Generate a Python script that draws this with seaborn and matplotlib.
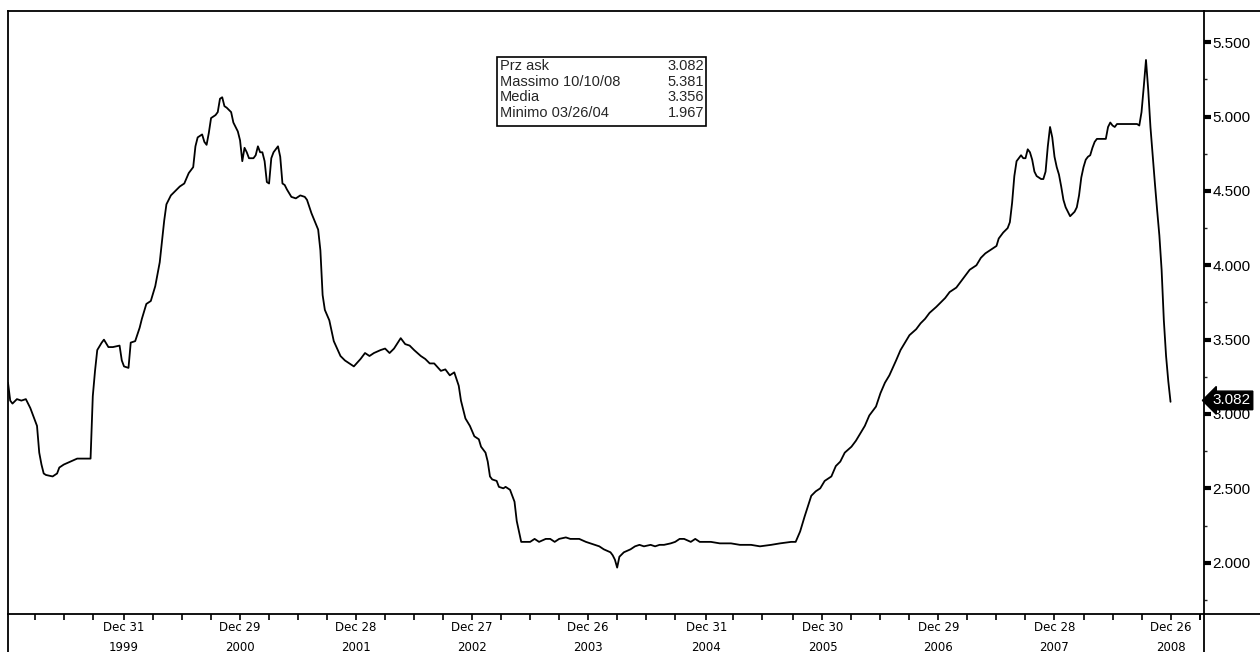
import numpy as np
import pandas as pd
import matplotlib
matplotlib.use('Agg')
import matplotlib.pyplot as plt
from matplotlib.lines import Line2D
from matplotlib.patches import Rectangle
import seaborn as sns

# weekly ask price
dates = [
    '1999-01-01', '1999-01-08', '1999-01-15', '1999-01-29', '1999-02-12', '1999-02-26', '1999-03-12',
    '1999-03-19', '1999-04-02', '1999-04-09', '1999-04-16', '1999-04-23', '1999-04-30', '1999-05-21',
    '1999-06-04', '1999-06-11', '1999-06-25', '1999-07-16', '1999-08-06', '1999-08-20', '1999-09-03',
    '1999-09-17', '1999-09-24', '1999-10-01', '1999-10-08', '1999-10-22', '1999-10-29', '1999-11-12',
    '1999-11-26', '1999-12-17', '1999-12-24', '1999-12-31', '2000-01-14', '2000-01-21', '2000-02-04',
    '2000-02-18', '2000-02-25', '2000-03-10', '2000-03-24', '2000-04-07', '2000-04-21', '2000-05-05',
    '2000-05-12', '2000-05-26', '2000-06-09', '2000-06-23', '2000-07-07', '2000-07-21', '2000-08-04',
    '2000-08-11', '2000-08-18', '2000-09-01', '2000-09-08', '2000-09-15', '2000-09-22', '2000-09-29',
    '2000-10-13', '2000-10-20', '2000-10-27', '2000-11-03', '2000-11-10', '2000-11-17', '2000-12-01',
    '2000-12-08', '2000-12-15', '2000-12-22', '2000-12-29', '2001-01-05', '2001-01-12', '2001-01-19',
    '2001-01-26', '2001-02-09', '2001-02-16', '2001-02-23', '2001-03-02', '2001-03-09', '2001-03-16',
    '2001-03-23', '2001-03-30', '2001-04-06', '2001-04-13', '2001-04-27', '2001-05-04', '2001-05-11',
    '2001-05-18', '2001-05-25', '2001-06-08', '2001-06-22', '2001-07-06', '2001-07-20', '2001-07-27',
    '2001-08-10', '2001-08-31', '2001-09-07', '2001-09-14', '2001-09-21', '2001-10-05', '2001-10-19',
    '2001-11-09', '2001-11-23', '2001-12-07', '2001-12-21', '2002-01-11', '2002-01-25', '2002-02-08',
    '2002-02-22', '2002-03-15', '2002-03-29', '2002-04-12', '2002-04-26', '2002-05-17', '2002-05-31',
    '2002-06-14', '2002-06-28', '2002-07-19', '2002-08-02', '2002-08-16', '2002-08-30', '2002-09-20',
    '2002-10-04', '2002-10-18', '2002-11-01', '2002-11-15', '2002-11-22', '2002-12-06', '2002-12-20',
    '2003-01-03', '2003-01-17', '2003-01-24', '2003-02-07', '2003-02-14', '2003-02-21', '2003-02-28',
    '2003-03-14', '2003-03-21', '2003-04-04', '2003-04-11', '2003-04-25', '2003-05-09', '2003-05-16',
    '2003-05-30', '2003-06-13', '2003-06-27', '2003-07-11', '2003-07-25', '2003-08-15', '2003-08-29',
    '2003-09-12', '2003-09-26', '2003-10-17', '2003-10-31', '2003-11-14', '2003-11-28', '2003-12-19',
    '2004-01-02', '2004-01-16', '2004-01-30', '2004-02-13', '2004-03-05', '2004-03-12', '2004-03-19',
    '2004-03-26', '2004-04-02', '2004-04-16', '2004-05-07', '2004-05-21', '2004-06-04', '2004-06-18',
    '2004-07-09', '2004-07-23', '2004-08-06', '2004-08-20', '2004-09-10', '2004-09-24', '2004-10-08',
    '2004-10-22', '2004-11-12', '2004-11-26', '2004-12-10', '2004-12-24', '2005-01-14', '2005-02-11',
    '2005-03-18', '2005-04-15', '2005-05-20', '2005-06-17', '2005-07-22', '2005-08-19', '2005-09-23',
    '2005-10-07', '2005-10-21', '2005-11-04', '2005-11-25', '2005-12-09', '2005-12-23', '2006-01-06',
    '2006-01-27', '2006-02-10', '2006-02-24', '2006-03-10', '2006-03-31', '2006-04-14', '2006-04-28',
    '2006-05-12', '2006-05-26', '2006-06-16', '2006-06-30', '2006-07-14', '2006-07-28', '2006-08-18',
    '2006-09-01', '2006-09-15', '2006-09-29', '2006-10-20', '2006-11-03', '2006-11-17', '2006-12-01',
    '2006-12-22', '2007-01-05', '2007-01-19', '2007-02-02', '2007-02-23', '2007-03-09', '2007-03-23',
    '2007-04-06', '2007-04-27', '2007-05-11', '2007-05-25', '2007-06-08', '2007-06-29', '2007-07-06',
    '2007-07-20', '2007-08-03', '2007-08-10', '2007-08-17', '2007-08-24', '2007-08-31', '2007-09-14',
    '2007-09-21', '2007-09-28', '2007-10-05', '2007-10-12', '2007-10-19', '2007-10-26', '2007-11-02',
    '2007-11-16', '2007-11-23', '2007-11-30', '2007-12-07', '2007-12-14', '2007-12-21', '2007-12-28',
    '2008-01-04', '2008-01-11', '2008-01-18', '2008-01-25', '2008-02-01', '2008-02-08', '2008-02-15',
    '2008-02-29', '2008-03-07', '2008-03-14', '2008-03-21', '2008-03-28', '2008-04-04', '2008-04-11',
    '2008-04-18', '2008-04-25', '2008-05-02', '2008-05-09', '2008-06-06', '2008-06-13', '2008-06-20',
    '2008-06-27', '2008-07-04', '2008-07-11', '2008-08-01', '2008-09-12', '2008-09-19', '2008-09-26',
    '2008-10-03', '2008-10-10', '2008-10-17', '2008-10-24', '2008-10-31', '2008-11-07', '2008-11-14',
    '2008-11-21', '2008-11-28', '2008-12-05', '2008-12-12', '2008-12-19', '2008-12-26',
]
prices = [
    3.21, 3.09, 3.07, 3.10, 3.09, 3.10, 3.04,
    3.00, 2.92, 2.74, 2.66, 2.60, 2.59, 2.58,
    2.60, 2.64, 2.66, 2.68, 2.70, 2.70, 2.70,
    2.70, 3.12, 3.29, 3.43, 3.48, 3.50, 3.45,
    3.45, 3.46, 3.36, 3.32, 3.31, 3.48, 3.49,
    3.58, 3.64, 3.74, 3.76, 3.86, 4.02, 4.30,
    4.41, 4.47, 4.50, 4.53, 4.55, 4.62, 4.66,
    4.80, 4.86, 4.88, 4.83, 4.81, 4.89, 4.99,
    5.01, 5.03, 5.12, 5.13, 5.07, 5.06, 5.03,
    4.96, 4.93, 4.90, 4.84, 4.70, 4.79, 4.76,
    4.72, 4.72, 4.74, 4.80, 4.76, 4.76, 4.70,
    4.56, 4.55, 4.72, 4.76, 4.80, 4.73, 4.55,
    4.54, 4.51, 4.46, 4.45, 4.47, 4.46, 4.44,
    4.35, 4.24, 4.10, 3.80, 3.70, 3.63, 3.49,
    3.39, 3.36, 3.34, 3.32, 3.37, 3.41, 3.39,
    3.41, 3.43, 3.44, 3.41, 3.44, 3.51, 3.47,
    3.46, 3.43, 3.39, 3.37, 3.34, 3.34, 3.29,
    3.30, 3.26, 3.28, 3.19, 3.09, 2.97, 2.92,
    2.85, 2.83, 2.78, 2.74, 2.68, 2.58, 2.56,
    2.55, 2.51, 2.50, 2.51, 2.49, 2.41, 2.28,
    2.14, 2.14, 2.14, 2.16, 2.14, 2.16, 2.16,
    2.14, 2.16, 2.17, 2.16, 2.16, 2.16, 2.14,
    2.13, 2.12, 2.11, 2.09, 2.07, 2.05, 2.02,
    1.967, 2.04, 2.07, 2.09, 2.11, 2.12, 2.11,
    2.12, 2.11, 2.12, 2.12, 2.13, 2.14, 2.16,
    2.16, 2.14, 2.16, 2.14, 2.14, 2.14, 2.13,
    2.13, 2.12, 2.12, 2.11, 2.12, 2.13, 2.14,
    2.14, 2.21, 2.31, 2.45, 2.48, 2.50, 2.55,
    2.58, 2.65, 2.68, 2.74, 2.78, 2.82, 2.87,
    2.92, 2.99, 3.05, 3.14, 3.21, 3.26, 3.36,
    3.43, 3.48, 3.53, 3.57, 3.61, 3.64, 3.68,
    3.72, 3.75, 3.78, 3.82, 3.85, 3.89, 3.93,
    3.97, 4.00, 4.05, 4.08, 4.10, 4.13, 4.18,
    4.22, 4.25, 4.29, 4.42, 4.60, 4.70, 4.74,
    4.72, 4.72, 4.78, 4.76, 4.71, 4.63, 4.60,
    4.58, 4.58, 4.63, 4.80, 4.93, 4.86, 4.73,
    4.66, 4.61, 4.53, 4.44, 4.39, 4.36, 4.33,
    4.36, 4.39, 4.47, 4.59, 4.66, 4.71, 4.73,
    4.74, 4.79, 4.83, 4.85, 4.85, 4.93, 4.96,
    4.94, 4.93, 4.95, 4.95, 4.95, 4.94, 5.03,
    5.20, 5.381, 5.18, 4.93, 4.74, 4.55, 4.37,
    4.20, 3.97, 3.63, 3.39, 3.22, 3.082,
]

year_end_ticks = ['1999-12-31', '2000-12-29', '2001-12-28', '2002-12-27', '2003-12-26',
                  '2004-12-31', '2005-12-30', '2006-12-29', '2007-12-28', '2008-12-26']
y_ticks = [2.0, 2.5, 3.0, 3.5, 4.0, 4.5, 5.0, 5.5]

stat_labels = ['Prz ask', 'Massimo 10/10/08', 'Media', 'Minimo 03/26/04']
stat_values = ['3.082', '5.381', '3.356', '1.967']
last_price = 3.082

df = pd.DataFrame({'date': pd.to_datetime(dates), 'price': prices})

sns.set_style('white')
plt.rcParams['font.family'] = ['Liberation Sans', 'DejaVu Sans']

W, H = 1260, 652
fig = plt.figure(figsize=(12.6, 6.52), dpi=100)
ax = fig.add_axes([8 / W, 1 - 614 / H, 1196 / W, 603 / H])

sns.lineplot(data=df, x='date', y='price', color='black', linewidth=1.3,
             estimator=None, ax=ax)

ax.set_xlim(pd.Timestamp('1999-01-01'), pd.Timestamp('2009-04-10'))
ax.set_ylim(1.655, 5.71)
ax.set_xlabel('')
ax.set_ylabel('')

for s in ax.spines.values():
    s.set_color('black')
    s.set_linewidth(1.3)

# y axis on the right
ax.yaxis.tick_right()
ax.set_yticks(y_ticks)
ax.set_yticklabels([f'{v:.3f}' for v in y_ticks])
ax.set_yticks(np.array(y_ticks) - 0.25, minor=True)
ax.tick_params(axis='y', which='major', direction='out', length=5, width=3,
               pad=1, labelsize=11, colors='black')
ax.tick_params(axis='y', which='minor', direction='out', length=2, width=1)

# x axis: year-end labels, quarter-end minor ticks
major = pd.to_datetime(year_end_ticks)
fridays = pd.date_range('1999-01-01', '2009-04-10', freq='W-FRI')
q_ends = [d for d, n in zip(fridays[:-1], fridays[1:]) if d.month != n.month and d.month in (3, 6, 9)]
q_ends.append(pd.Timestamp('2009-03-27'))
ax.set_xticks(major)
ax.set_xticklabels([f'{d:%b} {d.day}\n{d.year}' for d in major], linespacing=1.7)
ax.set_xticks(q_ends, minor=True)
ax.tick_params(axis='x', which='both', bottom=True, direction='out', length=4, width=1.2,
               pad=1, labelsize=8.5, colors='black')
for lab in ax.get_xticklabels():
    lab.set_family(['DejaVu Sans'])
    lab.set_verticalalignment('top')

# current value tag
ax.annotate(f'{last_price:.3f}', xy=(1.0, last_price), xycoords=('axes fraction', 'data'),
            xytext=(6, 1), textcoords='offset points', ha='left', va='center',
            color='white', fontsize=11, annotation_clip=False,
            bbox=dict(boxstyle='larrow,pad=0.15', fc='black', ec='black'))

# stats box
fig.add_artist(Rectangle((497 / W, 1 - 126 / H), 209 / W, 69 / H, transform=fig.transFigure,
                         fill=False, ec='black', lw=1.2))
for i, (lab, val) in enumerate(zip(stat_labels, stat_values)):
    y = 1 - (66 + i * 15.7) / H
    fig.text(500 / W, y, lab, ha='left', va='center', fontsize=10.5)
    fig.text(704 / W, y, val, ha='right', va='center', fontsize=10.5)

# frame lines around the axis panels
line_kw = dict(color='black', lw=1.3, transform=fig.transFigure)
fig.add_artist(Line2D([1204 / W, 1], [1 - 11 / H] * 2, **line_kw))
fig.add_artist(Line2D([1204 / W, 1], [1 - 614 / H] * 2, **line_kw))
fig.add_artist(Line2D([8 / W] * 2, [0, 1 - 614 / H], **line_kw))
fig.add_artist(Line2D([1204 / W] * 2, [0, 1 - 614 / H], **line_kw))

fig.savefig('out.png', dpi=100, facecolor='white')
